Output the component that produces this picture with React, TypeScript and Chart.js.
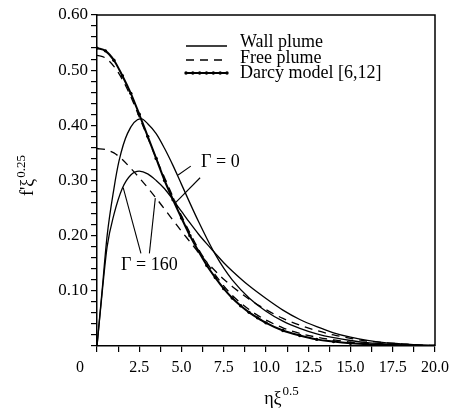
import React, { useEffect, useRef } from 'react';
import { Chart, registerables } from 'chart.js';

Chart.register(...registerables);

// ---------- data ----------
const etaWall0 = [0, 0.3, 0.6, 1.0, 1.3, 1.8, 2.6, 3.0, 3.5, 4.0, 4.5, 5.0, 5.5, 6.0, 6.5, 7.0, 7.5, 8.0, 9.0, 10, 11, 12, 13, 14, 15, 16, 17, 18, 20];
const fWall0 = [0, 0.1, 0.2, 0.285, 0.335, 0.385, 0.412, 0.403, 0.385, 0.358, 0.327, 0.293, 0.259, 0.226, 0.195, 0.166, 0.141, 0.12, 0.087, 0.063, 0.045, 0.032, 0.022, 0.015, 0.01, 0.006, 0.004, 0.002, 0.001];

const etaWall160 = [0, 0.3, 0.6, 1.0, 1.5, 2.0, 2.5, 3.0, 3.5, 4.0, 4.5, 5.0, 5.5, 6.0, 6.5, 7.0, 7.5, 8.0, 9, 10, 11, 12, 13, 14, 15, 16, 17, 18, 19, 20];
const fWall160 = [0, 0.095, 0.18, 0.238, 0.286, 0.31, 0.317, 0.312, 0.3, 0.285, 0.265, 0.244, 0.223, 0.203, 0.185, 0.168, 0.151, 0.136, 0.109, 0.086, 0.065, 0.048, 0.035, 0.024, 0.016, 0.01, 0.006, 0.004, 0.002, 0.001];

const etaFree0 = [0, 0.5, 1.0, 1.5, 2.0, 2.5, 3.0, 3.5, 4.0, 4.5, 5.0, 5.5, 6.0, 6.5, 7.0, 7.5, 8.0, 9, 10, 11, 12, 13, 14, 15, 16, 18, 20];
const fFree0 = [0.527, 0.522, 0.507, 0.483, 0.452, 0.415, 0.378, 0.34, 0.305, 0.27, 0.236, 0.205, 0.176, 0.151, 0.129, 0.109, 0.092, 0.066, 0.047, 0.033, 0.023, 0.016, 0.011, 0.007, 0.004, 0.002, 0];

const etaFree160 = [0, 0.5, 1.0, 1.5, 2.0, 2.5, 3.0, 3.5, 4.0, 4.5, 5.0, 5.5, 6.0, 6.5, 7.0, 7.5, 8.0, 9, 10, 11, 12, 13, 14, 15, 16, 17, 18, 19, 20];
const fFree160 = [0.358, 0.356, 0.35, 0.338, 0.322, 0.305, 0.287, 0.268, 0.248, 0.228, 0.208, 0.189, 0.17, 0.152, 0.136, 0.121, 0.108, 0.085, 0.066, 0.05, 0.038, 0.028, 0.02, 0.014, 0.009, 0.006, 0.004, 0.002, 0.001];

const etaDarcy = [0, 0.5, 1.0, 1.5, 2.0, 2.5, 3.0, 3.5, 4.0, 4.5, 5.0, 5.5, 6.0, 6.5, 7.0, 7.5, 8.0, 8.5, 9.0, 9.5, 10, 11, 12, 13, 14, 15, 16, 18, 20];
const fDarcy = [0.54, 0.535, 0.518, 0.49, 0.458, 0.42, 0.38, 0.34, 0.3, 0.265, 0.232, 0.2, 0.172, 0.146, 0.124, 0.104, 0.087, 0.073, 0.061, 0.051, 0.042, 0.028, 0.019, 0.012, 0.008, 0.005, 0.003, 0.001, 0];

const xMajor = [0, 2.5, 5, 7.5, 10, 12.5, 15, 17.5, 20];
const xTickLabels = ['0', '2.5', '5.0', '7.5', '10.0', '12.5', '15.0', '17.5', '20.0'];
const yMajor = [0.1, 0.2, 0.3, 0.4, 0.5, 0.6];
const yTickLabels = ['0.10', '0.20', '0.30', '0.40', '0.50', '0.60'];

const legendLabels = ['Wall plume', 'Free plume', 'Darcy model [6,12]'];
const xTitle = ['ηξ', '0.5'];
const yTitle = ["f'ξ", '0.25'];
const gamma0Label = 'Γ = 0';
const gamma160Label = 'Γ = 160';

const SERIF = '"Liberation Serif", "Times New Roman", "DejaVu Serif", serif';

const toPts = (xs: number[], ys: number[]) => xs.map((x, i) => ({ x, y: ys[i] }));

export default function App() {
  const ref = useRef<HTMLCanvasElement | null>(null);

  useEffect(() => {
    if (!ref.current) return;

    const xTickVals: number[] = [];
    for (let i = 0; i <= 16; i++) xTickVals.push(i * 1.25);
    const yTickVals: number[] = [];
    for (let i = 0; i <= 30; i++) yTickVals.push(Math.round(i * 2) / 100);

    const findLabel = (v: number, majors: number[], labels: string[]) => {
      const k = majors.findIndex((m) => Math.abs(m - v) < 1e-6);
      return k >= 0 ? labels[k] : '';
    };

    const overlay = {
      id: 'overlay',
      afterDraw(chart: any) {
        const ctx = chart.ctx as CanvasRenderingContext2D;
        const xs = chart.scales.x;
        const ys = chart.scales.y;
        const { left, right, top, bottom } = chart.chartArea;
        ctx.save();
        ctx.strokeStyle = '#000';
        ctx.fillStyle = '#000';
        // frame top & right
        ctx.lineWidth = 1.5;
        ctx.beginPath();
        ctx.moveTo(left, top);
        ctx.lineTo(right, top);
        ctx.lineTo(right, bottom);
        ctx.stroke();

        // "0" x label, set left of the axis
        ctx.font = `16px ${SERIF}`;
        ctx.textAlign = 'center';
        ctx.textBaseline = 'middle';
        ctx.fillText(xTickLabels[0], xs.getPixelForValue(0) - 17, bottom + 22);

        // legend
        const lx0 = 186, lx1 = 227, tx = 240;
        const rows = [42, 58, 73];
        ctx.font = `18px ${SERIF}`;
        ctx.textAlign = 'left';
        ctx.textBaseline = 'middle';
        // solid
        ctx.lineWidth = 1.3;
        ctx.setLineDash([]);
        ctx.beginPath(); ctx.moveTo(lx0, rows[0] + 4); ctx.lineTo(lx1, rows[0] + 4); ctx.stroke();
        // dashed
        ctx.setLineDash([8, 6]);
        ctx.beginPath(); ctx.moveTo(lx0, rows[1] + 2); ctx.lineTo(lx1, rows[1] + 2); ctx.stroke();
        ctx.setLineDash([]);
        // darcy
        ctx.lineWidth = 2;
        ctx.beginPath(); ctx.moveTo(lx0, rows[2]); ctx.lineTo(lx1, rows[2]); ctx.stroke();
        for (let px = lx0; px <= lx1 + 0.1; px += 41 / 6) {
          ctx.beginPath(); ctx.arc(px, rows[2], 1.7, 0, Math.PI * 2); ctx.fill();
        }
        legendLabels.forEach((t, i) => ctx.fillText(t, tx, rows[i]));

        // annotations
        const P = (x: number, y: number) => [xs.getPixelForValue(x), ys.getPixelForValue(y)];
        ctx.lineWidth = 1.1;
        const seg = (a: number[], b: number[]) => {
          const p = P(a[0], a[1]); const q = P(b[0], b[1]);
          ctx.beginPath(); ctx.moveTo(p[0], p[1]); ctx.lineTo(q[0], q[1]); ctx.stroke();
        };
        ctx.font = `18px ${SERIF}`;
        ctx.textAlign = 'center';
        ctx.textBaseline = 'middle';
        let c = P(7.3, 0.333);
        ctx.fillText(gamma0Label, c[0], c[1]);
        seg([5.55, 0.326], [4.8, 0.31]);
        seg([6.1, 0.305], [4.65, 0.26]);
        c = P(3.1, 0.147);
        ctx.fillText(gamma160Label, c[0], c[1]);
        seg([2.6, 0.168], [1.55, 0.287]);
        seg([3.1, 0.168], [3.45, 0.268]);

        // y title (rotated, with superscript)
        ctx.save();
        ctx.translate(33, 176);
        ctx.rotate(-Math.PI / 2);
        ctx.textAlign = 'left';
        ctx.textBaseline = 'alphabetic';
        ctx.font = `18px ${SERIF}`;
        const w1 = ctx.measureText(yTitle[0]).width;
        ctx.font = `13px ${SERIF}`;
        const w2 = ctx.measureText(yTitle[1]).width;
        const sx = -(w1 + w2) / 2;
        ctx.font = `18px ${SERIF}`;
        ctx.fillText(yTitle[0], sx, 0);
        ctx.font = `13px ${SERIF}`;
        ctx.fillText(yTitle[1], sx + w1 + 1, -8);
        ctx.restore();

        // x title with superscript
        ctx.textAlign = 'left';
        ctx.textBaseline = 'alphabetic';
        ctx.font = `18px ${SERIF}`;
        const v1 = ctx.measureText(xTitle[0]).width;
        ctx.font = `13px ${SERIF}`;
        const v2 = ctx.measureText(xTitle[1]).width;
        const bx = 281 - (v1 + v2) / 2;
        ctx.font = `18px ${SERIF}`;
        ctx.fillText(xTitle[0], bx, 404);
        ctx.font = `13px ${SERIF}`;
        ctx.fillText(xTitle[1], bx + v1 + 1, 395);
        ctx.restore();
      },
    };

    const lineBase = {
      borderColor: '#000',
      backgroundColor: '#000',
      pointRadius: 0,
      fill: false,
      cubicInterpolationMode: 'monotone' as const,
    };

    const chart = new Chart(ref.current, {
      type: 'line',
      data: {
        datasets: [
          { ...lineBase, label: 'Wall plume Γ=0', data: toPts(etaWall0, fWall0), borderWidth: 1.3 },
          { ...lineBase, label: 'Wall plume Γ=160', data: toPts(etaWall160, fWall160), borderWidth: 1.3 },
          { ...lineBase, label: 'Free plume Γ=0', data: toPts(etaFree0, fFree0), borderWidth: 1.3, borderDash: [8, 6] },
          { ...lineBase, label: 'Free plume Γ=160', data: toPts(etaFree160, fFree160), borderWidth: 1.3, borderDash: [8, 6] },
          {
            ...lineBase,
            label: 'Darcy model [6,12]',
            data: toPts(etaDarcy, fDarcy),
            borderWidth: 2,
            pointRadius: 1.7,
            pointBackgroundColor: '#000',
            pointBorderWidth: 0,
          },
        ],
      },
      options: {
        responsive: false,
        animation: false,
        parsing: false as any,
        layout: { padding: { left: 0, right: 23, top: 15, bottom: 0 } },
        plugins: { legend: { display: false }, tooltip: { enabled: false } },
        scales: {
          x: {
            type: 'linear',
            min: 0,
            max: 20,
            afterBuildTicks: (s: any) => { s.ticks = xTickVals.map((v) => ({ value: v })); },
            afterFit: (s: any) => { s.height = 69; },
            ticks: {
              autoSkip: false,
              maxRotation: 0,
              color: '#000',
              padding: 6,
              font: { family: SERIF, size: 16 },
              callback: (v: any) => (Math.abs(v) < 1e-9 ? '' : findLabel(Number(v), xMajor, xTickLabels)),
            },
            grid: { drawOnChartArea: false, drawTicks: true, tickLength: 6, color: '#000', lineWidth: 1.2 },
            border: { display: true, color: '#000', width: 1.5 },
          },
          y: {
            type: 'linear',
            min: 0,
            max: 0.6,
            afterBuildTicks: (s: any) => { s.ticks = yTickVals.map((v) => ({ value: v })); },
            afterFit: (s: any) => { s.width = 97; },
            ticks: {
              autoSkip: false,
              color: '#000',
              padding: 3,
              font: { family: SERIF, size: 17 },
              callback: (v: any) => findLabel(Number(v), yMajor, yTickLabels),
            },
            grid: { drawOnChartArea: false, drawTicks: true, tickLength: 6, color: '#000', lineWidth: 1.2 },
            border: { display: true, color: '#000', width: 1.5 },
          },
        },
      },
      plugins: [overlay],
    } as any);

    return () => chart.destroy();
  }, []);

  return (
    <div style={{ position: 'absolute', left: 0, top: 0, width: 458, height: 415, background: '#fff' }}>
      <canvas ref={ref} width={458} height={415} style={{ display: 'block', width: 458, height: 415 }} />
    </div>
  );
}
